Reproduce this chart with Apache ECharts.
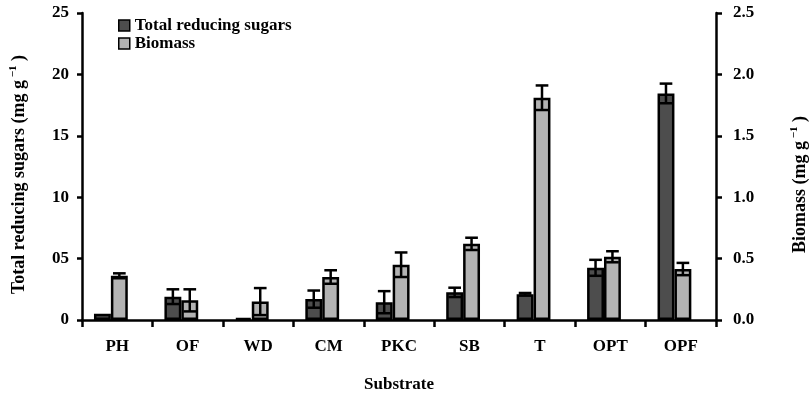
<!DOCTYPE html>
<html><head><meta charset="utf-8">
<script src="https://cdn.jsdelivr.net/npm/echarts@6/dist/echarts.min.js"></script>
<style>html,body{margin:0;padding:0;background:#fff}#c{width:812px;height:395px}</style>
</head><body><div id="c"></div>
<script>
const categories = ['PH', 'OF', 'WD', 'CM', 'PKC', 'SB', 'T', 'OPT', 'OPF'];
const sugars = [0.5, 1.9, 0.15, 1.7, 1.45, 2.25, 2.1, 4.25, 18.45];
const sugarsErr = [0, 0.6, 0, 0.7, 0.9, 0.38, 0.1, 0.65, 0.8];
const biomass = [0.36, 0.16, 0.15, 0.35, 0.45, 0.62, 1.81, 0.515, 0.415];
const biomassErr = [0.02, 0.09, 0.11, 0.055, 0.1, 0.05, 0.1, 0.045, 0.05];
const sugarTicks = ['0', '05', '10', '15', '20', '25'];
const biomassTicks = ['0.0', '0.5', '1.0', '1.5', '2.0', '2.5'];

const FONT = '"Liberation Serif", "Times New Roman", serif';
const DARK = '#4d4d4d';
const LIGHT = '#b3b3b3';
const BAR_W = 24;      // percent of band
const GAP_W = 18;      // percent of band (empty slot to the right)
const total = 2 * BAR_W + GAP_W;
const darkOff = (-total / 2 + BAR_W / 2) / 100;
const lightOff = (-total / 2 + BAR_W * 1.5) / 100;

function errRender(offFrac) {
  return function (params, api) {
    const i = api.value(0), v = api.value(1), e = api.value(2);
    if (!e) return null;
    const band = api.size([1, 0])[0];
    const x = api.coord([i, v])[0] + band * offFrac;
    const top = api.coord([i, v + e])[1];
    const bot = api.coord([i, v - e])[1];
    const h = band * 0.09;
    const st = { stroke: '#000', lineWidth: 2.5 };
    return { type: 'group', children: [
      { type: 'line', shape: { x1: x, y1: top, x2: x, y2: bot }, style: st },
      { type: 'line', shape: { x1: x - h, y1: top, x2: x + h, y2: top }, style: st },
      { type: 'line', shape: { x1: x - h, y1: bot, x2: x + h, y2: bot }, style: st }
    ] };
  };
}

const txt = { fontFamily: FONT, fontWeight: 'bold', fontSize: 17, color: '#000' };
function nameRich() {
  return {
    t: { fontFamily: FONT, fontWeight: 'bold', fontSize: 18, color: '#000', lineHeight: 22 },
    s: { fontFamily: FONT, fontWeight: 'bold', fontSize: 11, color: '#000', verticalAlign: 'top', lineHeight: 11 }
  };
}

const chart = echarts.init(document.getElementById('c'), null, { renderer: 'canvas' });
chart.setOption({
  animation: false,
  backgroundColor: '#fff',
  grid: { left: 82, right: 96, top: 13, bottom: 75, containLabel: false, outerBoundsMode: 'none' },
  legend: {
    orient: 'vertical', left: 113, top: 12,
    itemWidth: 11, itemHeight: 11, itemGap: 1,
    data: ['Total reducing sugars', 'Biomass'],
    textStyle: Object.assign({}, txt, { lineHeight: 17 }),
    itemStyle: { borderColor: '#000', borderWidth: 1.5 },
    icon: 'rect'
  },
  xAxis: {
    type: 'category', data: categories,
    name: 'Substrate', nameLocation: 'middle', nameGap: 56,
    nameTextStyle: txt,
    axisLine: { lineStyle: { color: '#000', width: 2.5 } },
    axisTick: { show: true, length: 7, lineStyle: { color: '#000', width: 2.5 } },
    axisLabel: Object.assign({ margin: 18 }, txt),
    splitLine: { show: false }
  },
  yAxis: [{
    type: 'value', min: 0, max: 25, interval: 5, position: 'left',
    name: '{t|Total reducing sugars (mg g}{s| \u22121}{t| )}',
    nameLocation: 'middle', nameGap: 52, nameRotate: 90,
    nameTextStyle: { rich: nameRich(), padding: [0, 16, 0, 0] },
    axisLine: { show: true, lineStyle: { color: '#000', width: 2.5 } },
    axisTick: { show: true, length: 5, lineStyle: { color: '#000', width: 2.5 } },
    axisLabel: Object.assign({ margin: 13, formatter: (v) => sugarTicks[Math.round(v / 5)] }, txt),
    splitLine: { show: false }
  }, {
    type: 'value', min: 0, max: 2.5, interval: 0.5, position: 'right',
    name: '{t|Biomass (mg g}{s| \u22121}{t| )}',
    nameLocation: 'middle', nameGap: 73, nameRotate: 90,
    nameTextStyle: { rich: nameRich(), padding: [0, 36, 0, 0] },
    axisLine: { show: true, lineStyle: { color: '#000', width: 2.5 } },
    axisTick: { show: true, length: 6, lineStyle: { color: '#000', width: 2.5 } },
    axisLabel: Object.assign({ margin: 17, formatter: (v) => biomassTicks[Math.round(v / 0.5)] }, txt),
    splitLine: { show: false }
  }],
  series: [{
    name: 'Total reducing sugars', type: 'bar', yAxisIndex: 0, data: sugars,
    barWidth: BAR_W + '%', barGap: '0%',
    itemStyle: { color: DARK, borderColor: '#000', borderWidth: 2.5 }
  }, {
    name: 'Biomass', type: 'bar', yAxisIndex: 1, data: biomass,
    barWidth: BAR_W + '%', barGap: '0%',
    itemStyle: { color: LIGHT, borderColor: '#000', borderWidth: 2.5 }
  }, {
    name: 'slot', type: 'bar', yAxisIndex: 0, data: [],
    barWidth: GAP_W + '%', barGap: '0%'
  }, {
    type: 'custom', yAxisIndex: 0, z: 5,
    data: sugars.map((v, i) => [i, v, sugarsErr[i]]),
    encode: { x: 0, y: 1 },
    renderItem: errRender(darkOff)
  }, {
    type: 'custom', yAxisIndex: 1, z: 5,
    data: biomass.map((v, i) => [i, v, biomassErr[i]]),
    encode: { x: 0, y: 1 },
    renderItem: errRender(lightOff)
  }]
});
</script>
</body></html>
